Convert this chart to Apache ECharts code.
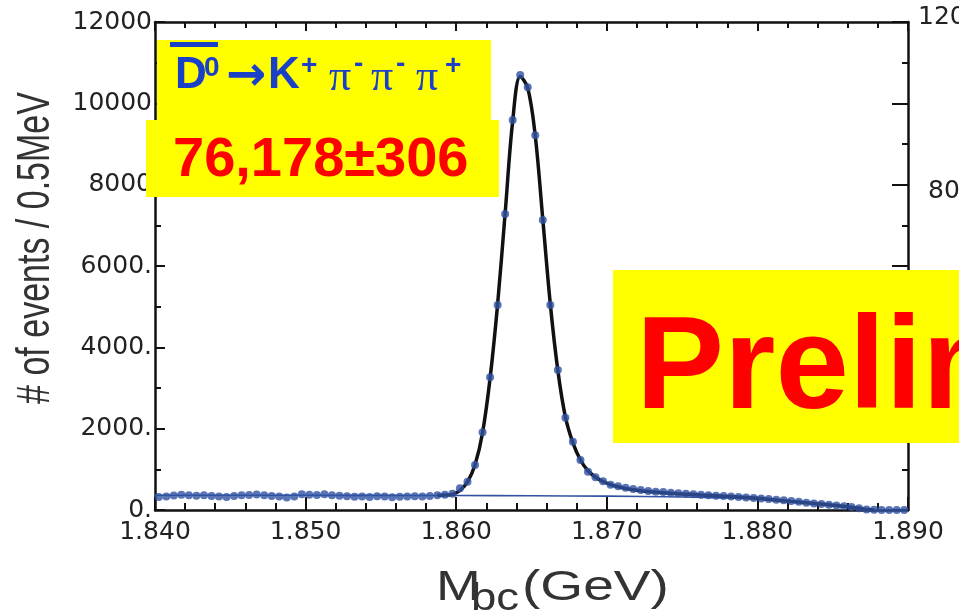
<!DOCTYPE html>
<html>
<head>
<meta charset="utf-8">
<script src="https://cdn.jsdelivr.net/npm/echarts@6/dist/echarts.min.js"></script>
<style>
html,body{margin:0;padding:0;background:#fff;}
#chart{width:959px;height:614px;}
</style>
</head>
<body>
<div id="chart"></div>
<script>
// ---- data ----
const binStart = 1.84025;
const binWidth = 0.0005;
// events per 0.5 MeV bin, 100 bins from 1.840 to 1.890 GeV
const dataY = [
  320,330,355,375,360,350,365,345,330,320,
  345,360,370,380,360,345,330,310,335,390,
  375,370,385,365,350,340,325,335,320,340,
  330,315,325,330,340,335,345,360,375,400,
  534,696,1106,1911,3263,5041,7278,9589,10696,10393,
  9213,7131,5041,3442,2270,1679,1229,942,804,710,
  620,585,545,515,490,470,450,440,425,410,
  400,385,375,365,352,345,330,322,310,295,
  280,270,255,240,220,200,178,160,145,130,
  112,95,72,42,15,5,3,2,2,1
];
// total fit, evaluated at bin centres from bin 37 on
const fitStartBin = 37;
const fitY = [
  360,366,385,
  480,690,1110,1900,3240,5060,7300,9560,10660,10380,
  9200,7150,5060,3430,2290,1650,1230,965,805,700,
  625,570,530,500,475,455,440,425,412,400,
  390,380,370,360,350,340,330,320,308,295,
  280,262,245,228,212,196,178,162,145,128,
  110,90,68,42,12,0
];
// background (ARGUS-like) fit
const bgX = [1.840,1.845,1.850,1.855,1.860,1.865,1.870,1.875,1.878,1.880,1.882,1.884,1.885,1.886,1.8865,1.887,1.8875];
const bgY = [362,362,361,359,356,350,340,318,298,272,215,145,108,72,52,25,0];

const xTickLabels = ['1.840','1.850','1.860','1.870','1.880','1.890'];
const yTickLabels = ['0.','2000.','4000.','6000.','8000','10000','12000'];

const titleLine = {D:'D', sup0:'0', arrow:'\u2192', K:'K', plus:'+', pi:'\u03c0', minus:'-'};
const yieldText = '76,178\u00b1306';
const prelimText = 'Preliminary';
const yName = '# of events / 0.5MeV';

// ---- build ----
const binCenters = dataY.map((_, i) => +(binStart + binWidth * i).toFixed(5));
const points = dataY.map((v, i) => [binCenters[i], v]);
const fitPts = fitY.map((v, k) => [binCenters[fitStartBin + k], v]);
const bgPts = bgX.map((x, k) => [x, bgY[k]]);

const AX = '#111';
const BLUE = '#3152a3';
const TBLUE = '#1a40c8';
const tickFont = 'DejaVu Sans';

const chart = echarts.init(document.getElementById('chart'));
chart.setOption({
  animation: false,
  backgroundColor: '#ffffff',
  grid: {left: 155, right: 51, top: 22, bottom: 104, containLabel: false},
  xAxis: [{
    type: 'value', min: 1.84, max: 1.89, interval: 0.01, position: 'bottom',
    axisLine: {onZero: false, lineStyle: {color: AX, width: 2.5}},
    axisTick: {inside: true, length: 13, lineStyle: {color: AX, width: 2}},
    minorTick: {show: true, splitNumber: 5, length: 7, lineStyle: {color: AX, width: 2}},
    splitLine: {show: false},
    axisLabel: {
      formatter: v => xTickLabels[Math.round((v - 1.84) / 0.01)] || '',
      fontFamily: tickFont, fontSize: 25, color: '#222', margin: 10
    }
  }, {
    type: 'value', min: 1.84, max: 1.89, interval: 0.01, position: 'top',
    axisLine: {onZero: false, lineStyle: {color: AX, width: 2.5}},
    axisTick: {inside: true, length: 9, lineStyle: {color: AX, width: 2}},
    minorTick: {show: true, splitNumber: 5, length: 6, lineStyle: {color: AX, width: 2}},
    splitLine: {show: false},
    axisLabel: {show: false}
  }],
  yAxis: [{
    type: 'value', min: 0, max: 12000, interval: 2000, position: 'left',
    axisLine: {onZero: false, lineStyle: {color: AX, width: 2.5}},
    axisTick: {inside: true, length: 10, lineStyle: {color: AX, width: 2}},
    minorTick: {show: true, splitNumber: 2, length: 6, lineStyle: {color: AX, width: 2}},
    splitLine: {show: false},
    axisLabel: {
      formatter: v => yTickLabels[Math.round(v / 2000)] || '',
      fontFamily: tickFont, fontSize: 25, color: '#222', margin: 3
    }
  }, {
    type: 'value', min: 0, max: 12000, interval: 2000, position: 'right',
    axisLine: {onZero: false, lineStyle: {color: AX, width: 2.5}},
    axisTick: {inside: true, length: 16, lineStyle: {color: AX, width: 2}},
    minorTick: {show: true, splitNumber: 2, length: 6, lineStyle: {color: AX, width: 2}},
    splitLine: {show: false},
    axisLabel: {show: false}
  }],
  series: [{
    type: 'line', data: bgPts, smooth: 0.3, showSymbol: false, z: 1,
    lineStyle: {color: BLUE, width: 1.6}
  }, {
    type: 'line', data: fitPts, smooth: 0.35, showSymbol: false, z: 2,
    lineStyle: {color: '#111', width: 3.5}
  }, {
    type: 'scatter', data: points, symbol: 'circle', symbolSize: 8, z: 3,
    itemStyle: {color: BLUE}
  }],
  graphic: {elements: [
    // y axis name (stretched like the reference)
    {type: 'text', x: 36, y: 248, rotation: Math.PI / 2, scaleY: 1.35, z: 50,
      style: {text: yName, font: '34px "Liberation Sans", Arial, sans-serif', fill: '#333', align: 'center', verticalAlign: 'middle'}},
    // x axis name M_bc(GeV)
    {type: 'text', x: 436, y: 588, scaleX: 1.25, z: 50,
      style: {text: 'M', font: '43px "Liberation Sans", Arial, sans-serif', fill: '#333', align: 'left', verticalAlign: 'middle'}},
    {type: 'text', x: 471, y: 600, scaleX: 1.2, z: 50,
      style: {text: 'bc', font: '38px "Liberation Sans", Arial, sans-serif', fill: '#333', align: 'left', verticalAlign: 'middle'}},
    {type: 'text', x: 522, y: 588, scaleX: 1.28, z: 50,
      style: {text: '(GeV)', font: '43px "Liberation Sans", Arial, sans-serif', fill: '#333', align: 'left', verticalAlign: 'middle'}},
    // fragments of the neighbouring plot's labels
    {type: 'text', x: 918, y: 17, z: 50,
      style: {text: '12000', font: '25px "DejaVu Sans", sans-serif', fill: '#222', align: 'left', verticalAlign: 'middle'}},
    {type: 'text', x: 928, y: 191, z: 50,
      style: {text: '8000', font: '25px "DejaVu Sans", sans-serif', fill: '#222', align: 'left', verticalAlign: 'middle'}},
    // yellow boxes
    {type: 'rect', z: 100, shape: {x: 157, y: 40, width: 334, height: 81}, style: {fill: '#ffff00'}},
    {type: 'rect', z: 100, shape: {x: 146, y: 120, width: 353, height: 77}, style: {fill: '#ffff00'}},
    {type: 'rect', z: 100, shape: {x: 613, y: 270, width: 360, height: 173}, style: {fill: '#ffff00'}},
    // decay line
    {type: 'rect', z: 101, shape: {x: 170, y: 42, width: 48, height: 5}, style: {fill: TBLUE}},
    {type: 'text', x: 175, y: 76, z: 101, style: {text: titleLine.D, font: 'bold 44px "Liberation Sans", Arial, sans-serif', fill: TBLUE, align: 'left', verticalAlign: 'middle'}},
    {type: 'text', x: 204, y: 68, z: 101, style: {text: titleLine.sup0, font: 'bold 28px "Liberation Sans", Arial, sans-serif', fill: TBLUE, align: 'left', verticalAlign: 'middle'}},
    {type: 'text', x: 226, y: 78, z: 101, style: {text: titleLine.arrow, font: 'bold 48px "DejaVu Sans", sans-serif', fill: TBLUE, align: 'left', verticalAlign: 'middle'}},
    {type: 'text', x: 268, y: 76, z: 101, style: {text: titleLine.K, font: 'bold 44px "Liberation Sans", Arial, sans-serif', fill: TBLUE, align: 'left', verticalAlign: 'middle'}},
    {type: 'text', x: 301, y: 66, z: 101, style: {text: titleLine.plus, font: 'bold 28px "Liberation Sans", Arial, sans-serif', fill: TBLUE, align: 'left', verticalAlign: 'middle'}},
    {type: 'text', x: 329, y: 78, z: 101, style: {text: titleLine.pi, font: '44px "Liberation Serif", serif', fill: TBLUE, align: 'left', verticalAlign: 'middle'}},
    {type: 'text', x: 354, y: 64, z: 101, style: {text: titleLine.minus, font: 'bold 28px "Liberation Sans", Arial, sans-serif', fill: TBLUE, align: 'left', verticalAlign: 'middle'}},
    {type: 'text', x: 371, y: 78, z: 101, style: {text: titleLine.pi, font: '44px "Liberation Serif", serif', fill: TBLUE, align: 'left', verticalAlign: 'middle'}},
    {type: 'text', x: 396, y: 64, z: 101, style: {text: titleLine.minus, font: 'bold 28px "Liberation Sans", Arial, sans-serif', fill: TBLUE, align: 'left', verticalAlign: 'middle'}},
    {type: 'text', x: 416, y: 78, z: 101, style: {text: titleLine.pi, font: '44px "Liberation Serif", serif', fill: TBLUE, align: 'left', verticalAlign: 'middle'}},
    {type: 'text', x: 445, y: 66, z: 101, style: {text: titleLine.plus, font: 'bold 28px "Liberation Sans", Arial, sans-serif', fill: TBLUE, align: 'left', verticalAlign: 'middle'}},
    // yield
    {type: 'text', x: 173, y: 161, z: 101, style: {text: yieldText, font: 'bold 56px "Liberation Sans", Arial, sans-serif', fill: '#ff0000', align: 'left', verticalAlign: 'middle'}},
    // preliminary
    {type: 'text', x: 636, y: 372, z: 101, style: {text: prelimText, font: 'bold 132px "Liberation Sans", Arial, sans-serif', fill: '#ff0000', align: 'left', verticalAlign: 'middle'}}
  ]}
});
</script>
</body>
</html>
